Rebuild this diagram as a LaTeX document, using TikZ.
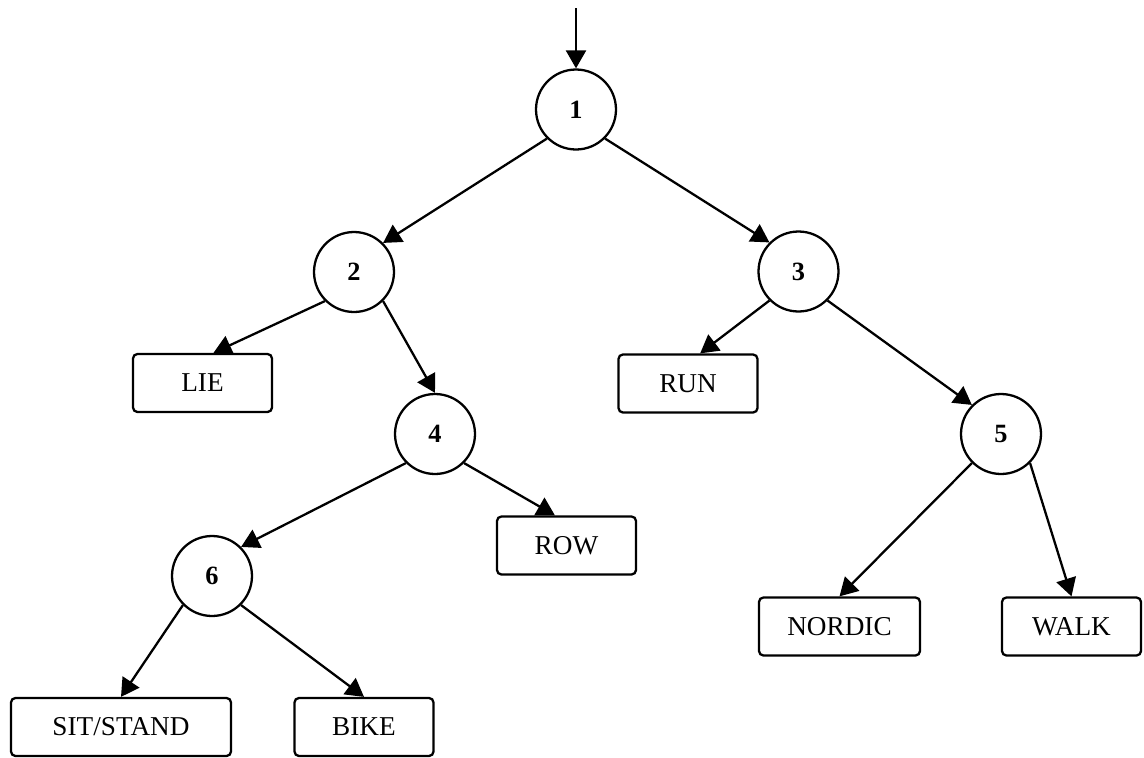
\documentclass[tikz,border=0pt]{standalone}
\usepackage{fontspec}
\setmainfont{Liberation Serif}
\usetikzlibrary{arrows.meta}

\begin{document}
\begin{tikzpicture}[x=0.02cm,y=-0.02cm,->,>={Triangle[length=0.36cm,width=0.4cm]},line width=1.3pt,
    state/.style={circle,draw,minimum size=1.6cm,inner sep=0pt,font=\bfseries\fontsize{15}{18}\selectfont},
    leaf/.style={rectangle,draw,rounded corners=2.5pt,minimum width=2.78cm,minimum height=1.16cm,inner sep=0pt,font=\fontsize{15.5}{18}\selectfont}]
                \useasboundingbox (0,0) rectangle (1144,758);
                \coordinate (in) at (576,8);
                \node[state] (1) at (576,109.5) {1};
                \node[state] (2) at (354,272) {2};
                \node[state] (3) at (798.5,271.5) {3};
                \node[state] (4) at (435,434) {4};
                \node[state] (5) at (1001,434) {5};
                \node[state] (6) at (212,576) {6};
                \node[leaf] (lie) at (202.5,383) {LIE};
                \node[leaf] (run) at (688,383.5) {RUN};
                \node[leaf] (row) at (566.5,545.5) {ROW};
                \node[leaf,minimum width=3.22cm] (nordic) at (839.5,626.5) {NORDIC};
                \node[leaf] (walk) at (1071.5,626.5) {WALK};
                \node[leaf,minimum width=4.4cm] (sitstand) at (121,727) {SIT/STAND};
                \node[leaf] (bike) at (364,727) {BIKE};
                \path
                (in) edge (1)
                (1.south west) edge (2.north east)
                (1.south east) edge (3.north west)
                (2.south west) edge (lie.70)
                (2.south east) edge (4.north)
                (3.south west) edge (run.68)
                (3.south east) edge (5.north west)
                (4.south west) edge (6.north east)
                (4.south east) edge (row.111)
                (5.south west) edge (nordic.north)
                (5.south east) edge (walk.north)
                (6.south west) edge (sitstand.north)
                (6.south east) edge (bike.north)
                ;
            \end{tikzpicture}
\end{document}
